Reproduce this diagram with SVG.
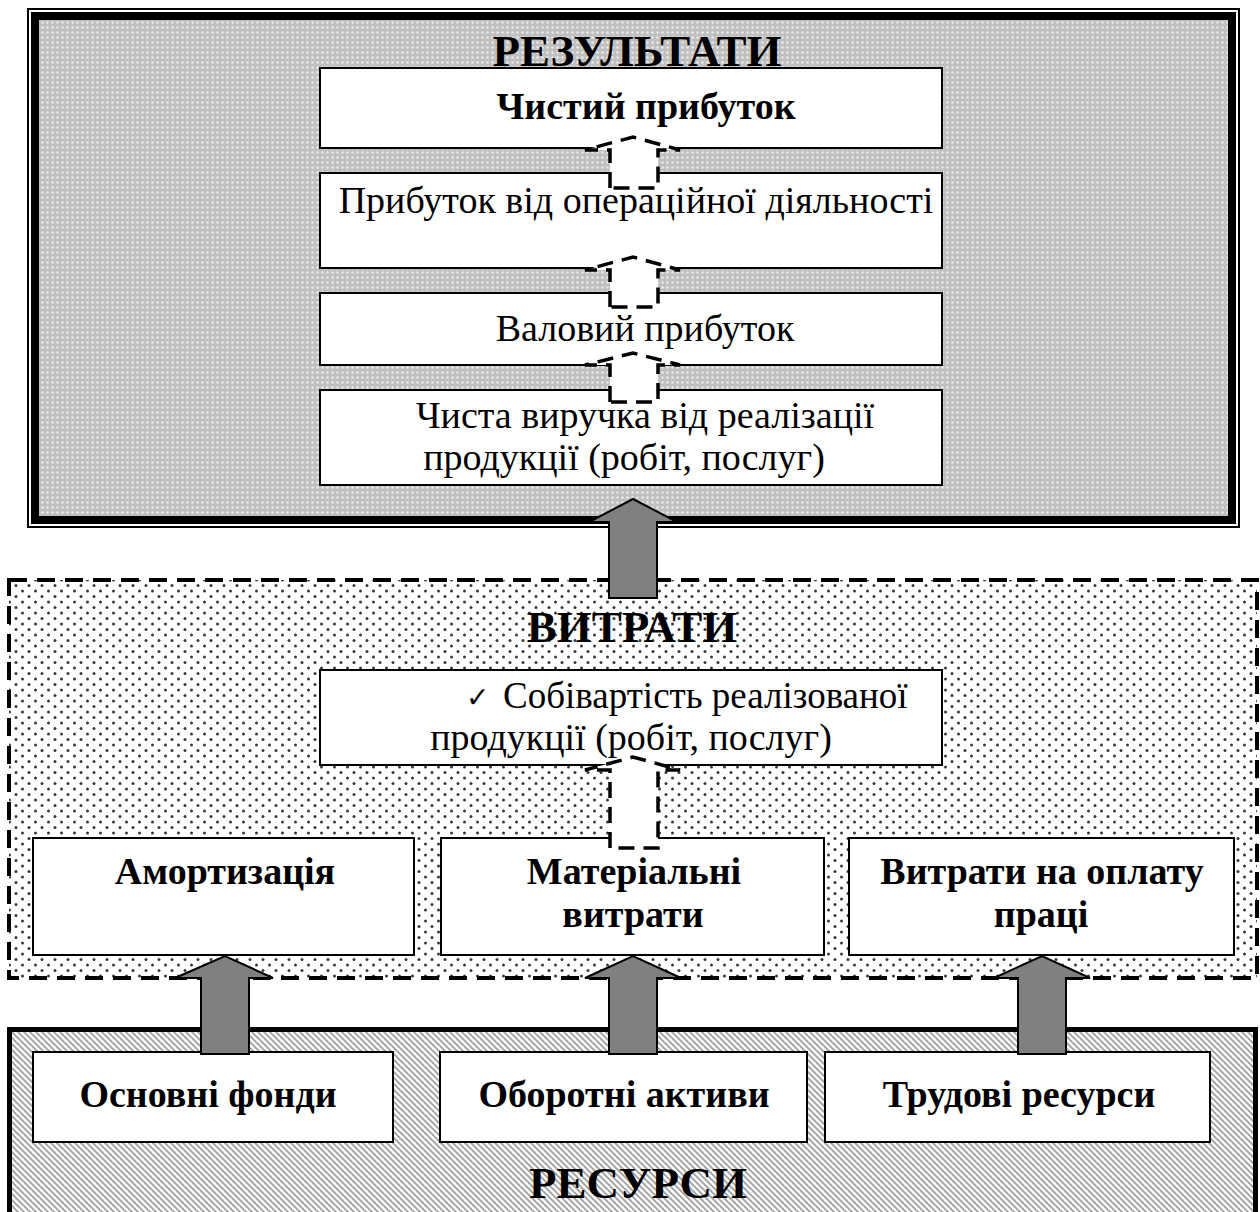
<svg xmlns="http://www.w3.org/2000/svg" width="1260" height="1212" viewBox="0 0 1260 1212">
<defs>
<pattern id="pGray" patternUnits="userSpaceOnUse" width="5" height="5">
<rect width="5" height="5" fill="#c0c0c0"/>
<circle cx="2.5" cy="2.5" r="1.2" fill="#ececec"/>
</pattern>
<pattern id="pDots" patternUnits="userSpaceOnUse" width="13" height="11">
<rect width="13" height="11" fill="#fff"/>
<circle cx="3" cy="2.5" r="1.5" fill="#3a3a3a"/>
<circle cx="9.5" cy="8" r="1.5" fill="#3a3a3a"/>
</pattern>
<pattern id="pHatch" patternUnits="userSpaceOnUse" width="6" height="6">
<rect width="6" height="6" fill="#fff"/>
<path d="M-1,-1 L7,7 M-1,5 L1,7 M5,-1 L7,1" stroke="#a0a0a0" stroke-width="1.8"/>
</pattern>
<style>
.box{fill:#fff;stroke:#000;stroke-width:2}
.t{font-family:"Liberation Serif","Times New Roman",serif;font-size:38px;fill:#000;text-anchor:middle}
.ts{font-family:"Liberation Serif","Times New Roman",serif;font-size:37px;fill:#000;text-anchor:start}
.b{font-weight:bold}
.h{font-family:"Liberation Serif","Times New Roman",serif;font-size:45px;font-weight:bold;fill:#000;text-anchor:middle}
.ga{fill:#808080;stroke:#000;stroke-width:2}
.da{fill:#fff;stroke:#000;stroke-width:3.5;stroke-dasharray:16 9}
</style>
</defs>

<g id="resources-frame">
<rect x="9.5" y="1029.5" width="1246" height="210" fill="url(#pHatch)" stroke="#000" stroke-width="5"/>
</g>

<g id="costs-frame">
<rect x="9" y="580" width="1248" height="398" fill="url(#pDots)" stroke="#000" stroke-width="4" stroke-dasharray="18 10"/>
</g>

<g id="results-frame">
<rect x="28" y="9" width="1211" height="518" fill="#fff" stroke="#000" stroke-width="2"/>
<rect x="35" y="16" width="1197" height="504" fill="url(#pGray)" stroke="#000" stroke-width="8"/>
</g>

<g id="n-net-profit">
<rect class="box" x="320" y="68" width="622" height="80"/>
<text class="t b" x="646" y="119">Чистий прибуток</text>
</g>
<g id="n-op-profit">
<rect class="box" x="320" y="173" width="622" height="95"/>
<text class="t" x="636" y="213">Прибуток від операційної діяльності</text>
</g>
<g id="n-gross-profit">
<rect class="box" x="320" y="293" width="622" height="72"/>
<text class="t" x="645" y="341">Валовий прибуток</text>
</g>
<g id="n-revenue">
<rect class="box" x="320" y="390" width="622" height="95"/>
<text class="t" x="645" y="428">Чиста виручка від реалізації</text>
<text class="t" x="624" y="470">продукції (робіт, послуг)</text>
</g>

<text class="h" x="637" y="66">РЕЗУЛЬТАТИ</text>
<text class="h" x="632" y="642">ВИТРАТИ</text>

<g id="n-cost-of-sales">
<rect class="box" x="320" y="670" width="622" height="95"/>
<text x="466" y="707" font-family="DejaVu Sans" font-size="28" fill="#000">✓</text>
<text class="ts" x="503" y="708">Собівартість реалізованої</text>
<text class="t" x="631" y="750">продукції (робіт, послуг)</text>
</g>

<g id="n-depreciation">
<rect class="box" x="33" y="838" width="381" height="117"/>
<text class="t b" x="225" y="884">Амортизація</text>
</g>
<g id="n-material">
<rect class="box" x="441" y="838" width="383" height="117"/>
<text class="t b" x="634" y="884">Матеріальні</text>
<text class="t b" x="633" y="927">витрати</text>
</g>
<g id="n-labor">
<rect class="box" x="849" y="838" width="385" height="117"/>
<text class="t b" x="1042" y="884">Витрати на оплату</text>
<text class="t b" x="1041" y="927">праці</text>
</g>

<g id="n-fixed-assets">
<rect class="box" x="33" y="1052" width="360" height="90"/>
<text class="t b" x="208" y="1107">Основні фонди</text>
</g>
<g id="n-current-assets">
<rect class="box" x="440" y="1052" width="367" height="90"/>
<text class="t b" x="624" y="1107">Оборотні активи</text>
</g>
<g id="n-labor-res">
<rect class="box" x="825" y="1052" width="385" height="90"/>
<text class="t b" x="1019" y="1107">Трудові ресурси</text>
</g>

<text class="h" x="638" y="1198">РЕСУРСИ</text>

<g id="connectors">
<polygon class="da" points="610,188 610,150 585,150 633,137 680,150 658,150 658,188"/>
<polygon class="da" points="610,307 610,270 585,270 633,257 680,270 658,270 658,307"/>
<polygon class="da" points="610,402 610,365 585,365 633,353 680,365 658,365 658,402"/>
<polygon class="da" points="610,848 610,770 585,770 633,757 680,770 658,770 658,848"/>
<polygon class="ga" points="609,598 609,522 589,522 633,499 677,522 657,522 657,598"/>
<polygon class="ga" points="201,1054 201,978 175,978 225,956 273,978 249,978 249,1054"/>
<polygon class="ga" points="609,1054 609,978 585,978 633,956 681,978 657,978 657,1054"/>
<polygon class="ga" points="1018,1054 1018,978 994,978 1042,956 1090,978 1066,978 1066,1054"/>
</g>
</svg>
